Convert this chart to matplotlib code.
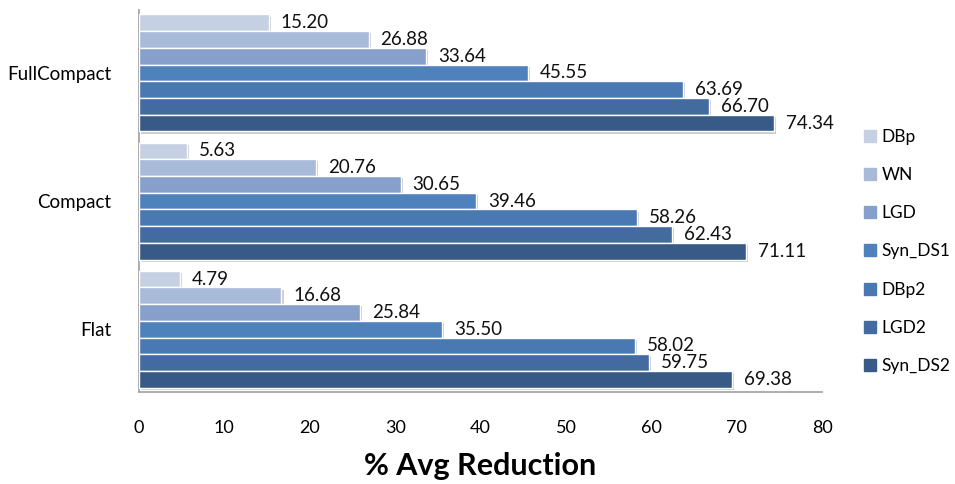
import matplotlib
matplotlib.use("Agg")
import matplotlib.pyplot as plt
import matplotlib.patheffects as pe
from matplotlib.lines import Line2D
import numpy as np

plt.rcParams['font.family'] = ['Lato', 'DejaVu Sans']

categories = ["Flat", "Compact", "FullCompact"]
series = ["DBp", "WN", "LGD", "Syn_DS1", "DBp2", "LGD2", "Syn_DS2"]
dbp = [4.79, 5.63, 15.20]
wn = [16.68, 20.76, 26.88]
lgd = [25.84, 30.65, 33.64]
syn_ds1 = [35.50, 39.46, 45.55]
dbp2 = [58.02, 58.26, 63.69]
lgd2 = [59.75, 62.43, 66.70]
syn_ds2 = [69.38, 71.11, 74.34]
values = [dbp, wn, lgd, syn_ds1, dbp2, lgd2, syn_ds2]
colors = ["#C6D0E3", "#A9B9D8", "#86A0CB", "#4F81BD", "#4A78B2", "#436BA0", "#375A87"]
xticks = [0, 10, 20, 30, 40, 50, 60, 70, 80]

fig = plt.figure(figsize=(9.55, 4.84), dpi=100)
ax = fig.add_axes([0.1455, 0.19, 0.7155, 0.789])

h = 0.1305
y = np.arange(len(categories))
n = len(series)
for i, (name, vals, c) in enumerate(zip(series, values, colors)):
    off = (n - 1) / 2 * h - i * h
    bars = ax.barh(y + off, vals, height=h, color=c, edgecolor="white", linewidth=1.0,
                   label=name, zorder=3)
    for b in bars:
        b.set_path_effects([pe.SimplePatchShadow(offset=(1.5, -1.5), shadow_rgbFace="#999999", alpha=0.5),
                            pe.Normal()])
    for yy, v in zip(y + off, vals):
        ax.text(v + 1.4, yy, f"{v:.2f}", va="center", ha="left", fontsize=13.5, color="#111111", zorder=4)

ax.set_xlim(0, 80)
ax.set_ylim(-0.49, 2.49)
ax.set_xticks(xticks)
ax.set_xticklabels([str(t) for t in xticks], fontsize=13)
ax.set_yticks(y)
ax.set_yticklabels(categories, fontsize=13.5)
ax.tick_params(axis="x", length=0, pad=20)
ax.tick_params(axis="y", length=0, pad=20)
for s in ["top", "right"]:
    ax.spines[s].set_visible(False)
for s in ["left", "bottom"]:
    ax.spines[s].set_color("#A0A0A0")
    ax.spines[s].set_linewidth(1.2)
ax.set_xlabel("% Avg Reduction", fontsize=22, fontweight="bold", labelpad=12)

handles = [Line2D([], [], marker="s", linestyle="none", markersize=8, markerfacecolor=c,
                  markeredgecolor=c) for c in colors]
leg = fig.legend(handles, series, loc="upper left", bbox_to_anchor=(0.893, 0.752), frameon=False,
                 fontsize=12.5, labelspacing=1.28, handletextpad=0.15, handlelength=1.0, borderpad=0)

fig.savefig("out.png", dpi=100)
